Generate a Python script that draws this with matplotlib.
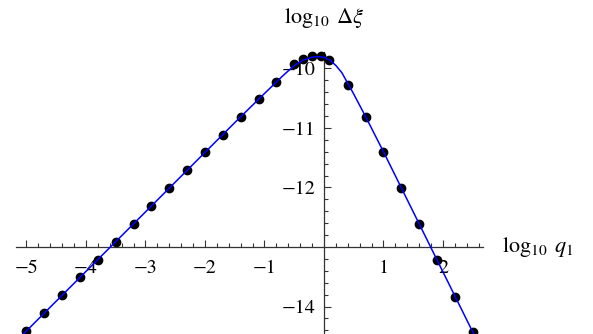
import matplotlib
matplotlib.use("Agg")
import matplotlib.pyplot as plt
import numpy as np
from matplotlib.ticker import FixedLocator

plt.rcParams["mathtext.fontset"] = "stix"
plt.rcParams["font.family"] = ["STIXGeneral", "DejaVu Serif"]

# sampled points: log10 q1 vs log10 delta-xi
q_log = [-5.0, -4.7, -4.4, -4.1, -3.8, -3.5, -3.2, -2.9, -2.6, -2.3,
         -2.0, -1.7, -1.4, -1.1, -0.8, -0.5, -0.35, -0.2, -0.05, 0.08,
         0.4, 0.7, 1.0, 1.3, 1.6, 1.9, 2.2, 2.5]
dxi_log = [-14.41, -14.11, -13.81, -13.51, -13.21, -12.91, -12.61, -12.31,
           -12.01, -11.71, -11.41, -11.11, -10.81, -10.52, -10.22, -9.93,
           -9.84, -9.79, -9.79, -9.85,
           -10.27, -10.82, -11.41, -12.01, -12.62, -13.22, -13.84, -14.43]

# model curve
curve_x = [-5.1, -3.0, -1.5, -1.0, -0.7, -0.5, -0.35, -0.2, -0.1, 0.0,
           0.1, 0.2, 0.3, 0.5, 0.7, 1.0, 1.5, 2.0, 2.6]
curve_y = [-14.51, -12.41, -10.91, -10.42, -10.13, -9.95, -9.86, -9.81,
           -9.80, -9.81, -9.86, -9.95, -10.07, -10.43, -10.81, -11.40,
           -12.41, -13.42, -14.63]

x_major = [-5, -4, -3, -2, -1, 1, 2]
y_major = [-14, -12, -11, -10]
x_span = (-5.17, 2.67)
y_span = (-14.462, -9.72)

fig = plt.figure(figsize=(5.93, 3.34), dpi=100)
ax = fig.add_axes([0, 0, 1, 1])
ax.set_xlim(-5.445, 4.521)
ax.set_ylim(-14.462, -8.849)

for s in ("top", "right"):
    ax.spines[s].set_visible(False)
ax.spines["bottom"].set_position(("data", -13))
ax.spines["left"].set_position(("data", 0))
ax.spines["bottom"].set_bounds(*x_span)
ax.spines["left"].set_bounds(*y_span)
for s in ("bottom", "left"):
    ax.spines[s].set_linewidth(0.9)
    ax.spines[s].set_color("#333333")

x_minor = [v for v in np.round(np.arange(-5.0, 2.61, 0.2), 1)
           if v not in x_major and v != 0]
y_minor = [v for v in np.round(np.arange(-14.4, -9.79, 0.2), 1)
           if v not in y_major and v != -13]

ax.xaxis.set_major_locator(FixedLocator(x_major))
ax.xaxis.set_minor_locator(FixedLocator(x_minor))
ax.yaxis.set_major_locator(FixedLocator(y_major))
ax.yaxis.set_minor_locator(FixedLocator(y_minor))
ax.set_xticklabels([f"\u2212{abs(v)}" if v < 0 else str(v) for v in x_major])
ax.set_yticklabels([f"\u2212{abs(v)}" for v in y_major])

ax.tick_params(axis="both", which="major", direction="in", length=5,
               width=0.8, color="#333333", labelsize=14.5)
ax.tick_params(axis="both", which="minor", direction="in", length=3,
               width=0.8, color="#333333")
ax.tick_params(axis="x", which="major", pad=9)
ax.tick_params(axis="y", which="major", pad=6)

ax.plot(q_log, dxi_log, "o", color="black", markersize=6.0, zorder=3)
ax.plot(curve_x, curve_y, "-", color="#0000ff", linewidth=1.1, zorder=4)

ax.text(0.0, -8.95, r"$\log_{10}\;\Delta\xi$", fontsize=16, ha="center",
        va="top")
ax.text(2.99, -13.0, r"$\log_{10}\;q_1$", fontsize=16, ha="left",
        va="center")

fig.savefig("out.png", dpi=100)
